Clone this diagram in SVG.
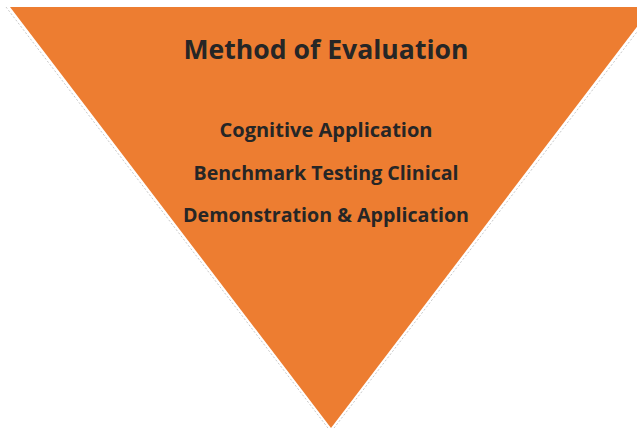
<svg xmlns="http://www.w3.org/2000/svg" width="637" height="428" viewBox="0 0 637 428">
<style>
.t{font-family:"Open Sans",Lato,"Liberation Sans",sans-serif;font-weight:bold;fill:#262626;text-anchor:middle}
.h{font-size:27px}
.s{font-size:20px}
</style>
<rect width="637" height="428" fill="#ffffff"/>
<g id="triangle">
<polyline points="6,7 331,432 656,7" fill="none" stroke="#c8c8c8" stroke-width="1" stroke-dasharray="2 2"/>
<polygon points="10,7 652,7 331,428" fill="#ED7D31"/>
</g>
<g id="labels">
<text class="t h" x="326" y="58.5" textLength="285" lengthAdjust="spacingAndGlyphs">Method of Evaluation</text>
<text class="t s" x="326" y="136.5" textLength="213" lengthAdjust="spacingAndGlyphs">Cognitive Application</text>
<text class="t s" x="326" y="179.5" textLength="265" lengthAdjust="spacingAndGlyphs">Benchmark Testing Clinical</text>
<text class="t s" x="326" y="221.5" textLength="286" lengthAdjust="spacingAndGlyphs">Demonstration &amp; Application</text>
</g>
</svg>
